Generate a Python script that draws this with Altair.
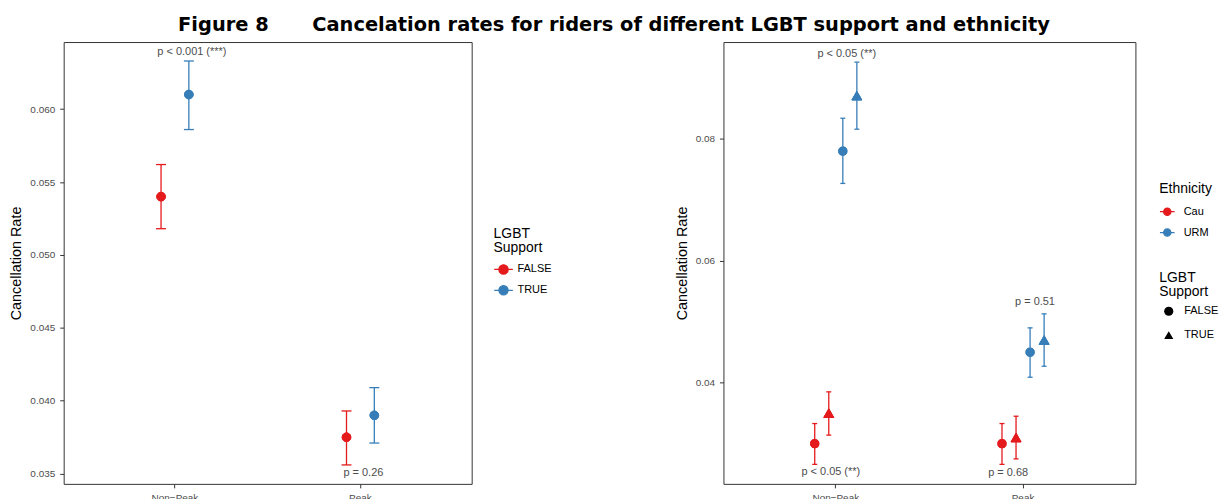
import altair as alt
import pandas as pd

FONT = "Liberation Sans"
RED, BLUE = "#E41A1C", "#377EB8"
GREY = "#4D4D4D"

periods = ["Non−Peak", "Peak"]

# Left panel: cancellation rate by LGBT support (estimate and 95% interval)
lgbt_period = ["Non−Peak", "Non−Peak", "Peak", "Peak"]
lgbt_support = ["FALSE", "TRUE", "FALSE", "TRUE"]
lgbt_rate = [0.0540, 0.0610, 0.0375, 0.0390]
lgbt_lo = [0.0518, 0.0586, 0.0356, 0.0371]
lgbt_hi = [0.0562, 0.0633, 0.0393, 0.0409]

# Right panel: cancellation rate by ethnicity and LGBT support
eth_period = ["Non−Peak"] * 4 + ["Peak"] * 4
eth_group = ["Cau", "Cau", "URM", "URM"] * 2
eth_support = ["FALSE", "TRUE", "FALSE", "TRUE"] * 2
eth_rate = [0.0300, 0.0350, 0.0780, 0.0871, 0.0300, 0.0310, 0.0450, 0.0470]
eth_lo = [0.0266, 0.0314, 0.0727, 0.0816, 0.0266, 0.0275, 0.0409, 0.0427]
eth_hi = [0.0333, 0.0385, 0.0834, 0.0926, 0.0333, 0.0345, 0.0490, 0.0513]

# Significance notes
left_note_period = ["Non−Peak", "Peak"]
left_note_y = [0.0639, 0.03507]
left_note_text = ["p < 0.001 (***)", "p = 0.26"]

right_note_period = ["Non−Peak", "Non−Peak", "Peak", "Peak"]
right_note_y = [0.0940, 0.0253, 0.0252, 0.0532]
right_note_text = ["p < 0.05 (**)", "p < 0.05 (**)", "p = 0.68", "p = 0.51"]

left_df = pd.DataFrame({"period": lgbt_period, "lgbt": lgbt_support,
                        "rate": lgbt_rate, "lo": lgbt_lo, "hi": lgbt_hi})
right_df = pd.DataFrame({"period": eth_period, "eth": eth_group, "lgbt": eth_support,
                         "rate": eth_rate, "lo": eth_lo, "hi": eth_hi})
right_df["grp"] = right_df["eth"] + "-" + right_df["lgbt"]

# legend key: short horizontal line with a dot, like a pointrange key
KEY = "M-1,0L1,0M-0.5,0A0.5,0.5,0,1,1,0.5,0A0.5,0.5,0,1,1,-0.5,0Z"

x_scale = alt.Scale(domain=periods, paddingInner=0.7, paddingOuter=0.45)
x_axis = alt.Axis(title=None, labelAngle=0)


def panel(df, y_scale, y_axis, offset_field, offset_domain, color_field, color_domain,
          cap, legend, point_layers):
    """Point estimates with error bars, dodged inside each period."""
    col_scale = alt.Scale(domain=color_domain, range=[RED, BLUE])
    base = alt.Chart(df).encode(
        x=alt.X("period:N", scale=x_scale, axis=x_axis),
        xOffset=alt.XOffset(f"{offset_field}:N",
                            scale=alt.Scale(domain=offset_domain, paddingInner=0, paddingOuter=0)),
    )

    def yy(field):
        return alt.Y(f"{field}:Q", scale=y_scale, axis=y_axis, title="Cancellation Rate")

    fill = alt.Fill(f"{color_field}:N", scale=col_scale, legend=legend)
    stroke = alt.Stroke(f"{color_field}:N", scale=col_scale, legend=legend)
    pts = [lay(base).encode(y=yy("rate"), fill=fill, stroke=stroke) for lay in point_layers]

    plain_stroke = alt.Stroke(f"{color_field}:N", scale=col_scale)
    plain_fill = alt.Fill(f"{color_field}:N", scale=col_scale)
    rules = base.mark_rule(strokeWidth=1.3).encode(y=yy("lo"), y2="hi:Q", stroke=plain_stroke)
    top = base.mark_tick(size=cap, thickness=1.3, opacity=1).encode(y=yy("hi"), fill=plain_fill)
    bot = base.mark_tick(size=cap, thickness=1.3, opacity=1).encode(y=yy("lo"), fill=plain_fill)
    # points first (they carry the legends), then bars, then points again on top
    return pts + [rules, top, bot] + [p for p in pts]


def notes(periods_, ys, texts, nudges, y_scale, y_axis):
    out = []
    for p, yv, t, dx in zip(periods_, ys, texts, nudges):
        d = pd.DataFrame({"period": [p], "y": [yv], "label": [t]})
        out.append(alt.Chart(d).mark_text(font=FONT, fontSize=11, color=GREY, dx=dx).encode(
            x=alt.X("period:N", scale=x_scale, axis=x_axis),
            y=alt.Y("y:Q", scale=y_scale, axis=y_axis, title="Cancellation Rate"),
            text="label:N",
        ))
    return out


# ---- left panel
ly_scale = alt.Scale(domain=[0.0343, 0.0646], nice=False, zero=False)
ly_axis = alt.Axis(title="Cancellation Rate", values=[0.035, 0.04, 0.045, 0.05, 0.055, 0.06],
                   format=".3f")
left_legend = alt.Legend(title=["LGBT", "Support"], orient="none", legendX=432, legendY=185.5,
                         symbolType=KEY, symbolSize=350, symbolStrokeWidth=1.2, rowPadding=3)
left_points = [lambda b: b.mark_point(filled=True, strokeWidth=1, opacity=1, size=75,
                                      shape="circle")]
left = alt.layer(
    *panel(left_df, ly_scale, ly_axis, "lgbt", ["FALSE", "TRUE"], "lgbt", ["FALSE", "TRUE"],
           10, left_legend, left_points),
    *notes(left_note_period, left_note_y, left_note_text, [17, 3], ly_scale, ly_axis),
).properties(width=410, height=444)

# ---- right panel
ry_scale = alt.Scale(domain=[0.0234, 0.0959], nice=False, zero=False)
ry_axis = alt.Axis(title="Cancellation Rate", values=[0.04, 0.06, 0.08], format=".2f")
eth_legend = alt.Legend(title="Ethnicity", orient="none", legendX=438, legendY=141,
                        symbolType=KEY, symbolSize=216, symbolStrokeWidth=1.2, rowPadding=6,
                        labelOffset=8.5, titlePadding=7.5)
shape_enc = alt.Shape(
    "lgbt:N", scale=alt.Scale(domain=["FALSE", "TRUE"], range=["circle", "triangle-up"]),
    legend=alt.Legend(title=["LGBT", "Support"], orient="none", legendX=438, legendY=230.5,
                      symbolFillColor="black", symbolStrokeColor="black", symbolStrokeWidth=0,
                      symbolSize=85, rowPadding=12, symbolOffset=4, labelOffset=10,
                      titlePadding=6.5),
)
right_points = [
    lambda b: b.transform_filter(alt.datum.lgbt == "FALSE").mark_point(
        filled=True, strokeWidth=1, opacity=1, size=68).encode(shape=shape_enc),
    lambda b: b.transform_filter(alt.datum.lgbt == "TRUE").mark_point(
        filled=True, strokeWidth=1, opacity=1, size=100).encode(shape=shape_enc),
]
right = alt.layer(
    *panel(right_df, ry_scale, ry_axis, "grp", ["Cau-FALSE", "Cau-TRUE", "URM-FALSE", "URM-TRUE"],
           "eth", ["Cau", "URM"], 5, eth_legend, right_points),
    *notes(right_note_period, right_note_y, right_note_text, [11, -5, -15, 12], ry_scale, ry_axis),
).properties(width=414, height=444)

title = ("Figure 8" + "\u2003\u2003\u2005"
         + "Cancelation rates for riders of different LGBT support and ethnicity")

chart = alt.hconcat(left, right, spacing=121).resolve_scale(
    x="independent", y="independent", fill="independent", stroke="independent",
    shape="independent", xOffset="independent",
).resolve_legend(
    fill="independent", stroke="independent", shape="independent",
).properties(
    title=alt.TitleParams(title, font="DejaVu Sans", fontSize=19.5, fontWeight="bold",
                          color="black", anchor="middle", offset=6, dx=0),
    padding={"left": 8, "top": 14, "right": 0, "bottom": 5},
).configure_view(
    stroke="#333333", strokeWidth=1,
).configure_axis(
    grid=False, domain=False, tickColor="#333333", tickSize=4, labelColor=GREY,
    labelFont=FONT, labelFontSize=10, labelPadding=5, titleFont=FONT, titleFontSize=14.5,
    titleFontWeight="normal", titleColor="black", titlePadding=6,
).configure_legend(
    titleFont=FONT, titleFontSize=14, titleFontWeight="normal", titleColor="black",
    titleLineHeight=14, labelFont=FONT, labelFontSize=11, labelColor="black", padding=0,
    titlePadding=5, labelOffset=4,
)

chart.save("out.html", embed_options={"renderer": "svg", "actions": False})
